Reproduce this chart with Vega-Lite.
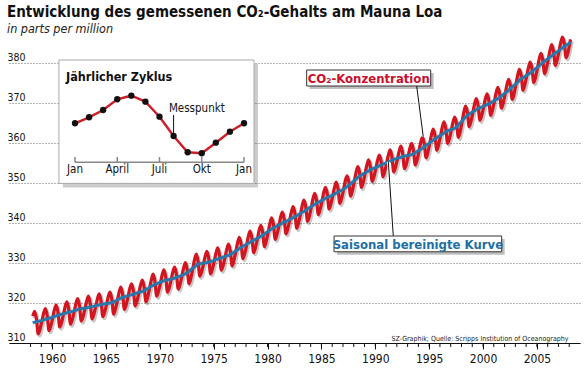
{
  "$schema": "https://vega.github.io/schema/vega-lite/v6.json",
  "width": 571,
  "height": 312,
  "autosize": {"type": "none"},
  "padding": {"left": 9, "top": 31, "right": 6, "bottom": 30},
  "background": "white",
  "config": {
    "view": {"stroke": null},
    "text": {"font": "DejaVu Sans Condensed"},
    "axis": {"labelFont": "DejaVu Sans Condensed", "titleFont": "DejaVu Sans Condensed"}
  },
  "title": {
    "text": "Entwicklung des gemessenen CO₂-Gehalts am Mauna Loa",
    "subtitle": "in parts per million",
    "anchor": "start",
    "frame": "group",
    "dx": -2,
    "offset": -5,
    "font": "DejaVu Sans Condensed",
    "fontSize": 15,
    "fontWeight": "bold",
    "color": "#111",
    "subtitleFont": "DejaVu Sans Condensed",
    "subtitleFontSize": 12.5,
    "subtitleFontStyle": "italic",
    "subtitleColor": "#222",
    "subtitlePadding": 3
  },
  "datasets": {
    "co2": [
      {"t":1958.21,"c":316.7,"d":315.0},{"t":1958.38,"c":317.9,"d":315.2},{"t":1958.54,"c":316.1,"d":315.3},{"t":1958.71,"c":312.3,"d":315.4},{"t":1958.88,"c":313.5,"d":315.5},
      {"t":1959.04,"c":315.3,"d":315.6},{"t":1959.21,"c":317.4,"d":315.8},{"t":1959.38,"c":318.6,"d":315.9},{"t":1959.54,"c":316.9,"d":316.0},{"t":1959.71,"c":313.1,"d":316.2},{"t":1959.88,"c":314.3,"d":316.3},
      {"t":1960.04,"c":316.1,"d":316.5},{"t":1960.21,"c":318.3,"d":316.6},{"t":1960.38,"c":319.5,"d":316.8},{"t":1960.54,"c":317.8,"d":316.9},{"t":1960.71,"c":314.0,"d":317.1},{"t":1960.88,"c":315.1,"d":317.2},
      {"t":1961.04,"c":317.0,"d":317.3},{"t":1961.21,"c":319.1,"d":317.4},{"t":1961.38,"c":320.3,"d":317.6},{"t":1961.54,"c":318.5,"d":317.7},{"t":1961.71,"c":314.7,"d":317.8},{"t":1961.88,"c":315.9,"d":317.9},
      {"t":1962.04,"c":317.7,"d":318.1},{"t":1962.21,"c":319.9,"d":318.2},{"t":1962.38,"c":321.1,"d":318.4},{"t":1962.54,"c":319.3,"d":318.5},{"t":1962.71,"c":315.5,"d":318.6},{"t":1962.88,"c":316.6,"d":318.7},
      {"t":1963.04,"c":318.4,"d":318.7},{"t":1963.21,"c":320.5,"d":318.8},{"t":1963.38,"c":321.7,"d":318.9},{"t":1963.54,"c":319.9,"d":319.0},{"t":1963.71,"c":316.0,"d":319.1},{"t":1963.88,"c":317.2,"d":319.2},
      {"t":1964.04,"c":319.0,"d":319.3},{"t":1964.21,"c":321.1,"d":319.4},{"t":1964.38,"c":322.3,"d":319.5},{"t":1964.54,"c":320.5,"d":319.6},{"t":1964.71,"c":316.6,"d":319.7},{"t":1964.88,"c":317.7,"d":319.8},
      {"t":1965.04,"c":319.5,"d":319.9},{"t":1965.21,"c":321.6,"d":319.9},{"t":1965.38,"c":322.7,"d":320.0},{"t":1965.54,"c":321.0,"d":320.1},{"t":1965.71,"c":317.2,"d":320.3},{"t":1965.88,"c":318.5,"d":320.5},
      {"t":1966.04,"c":320.4,"d":320.8},{"t":1966.21,"c":322.6,"d":321.0},{"t":1966.38,"c":324.0,"d":321.2},{"t":1966.54,"c":322.3,"d":321.4},{"t":1966.71,"c":318.4,"d":321.5},{"t":1966.88,"c":319.6,"d":321.7},
      {"t":1967.04,"c":321.5,"d":321.8},{"t":1967.21,"c":323.6,"d":321.9},{"t":1967.38,"c":324.8,"d":322.1},{"t":1967.54,"c":323.1,"d":322.2},{"t":1967.71,"c":319.3,"d":322.4},{"t":1967.88,"c":320.5,"d":322.5},
      {"t":1968.04,"c":322.3,"d":322.7},{"t":1968.21,"c":324.5,"d":322.8},{"t":1968.38,"c":325.7,"d":322.9},{"t":1968.54,"c":324.0,"d":323.1},{"t":1968.71,"c":320.3,"d":323.4},{"t":1968.88,"c":321.6,"d":323.6},
      {"t":1969.04,"c":323.6,"d":323.9},{"t":1969.21,"c":325.8,"d":324.2},{"t":1969.38,"c":327.2,"d":324.4},{"t":1969.54,"c":325.5,"d":324.7},{"t":1969.71,"c":321.7,"d":324.8},{"t":1969.88,"c":323.0,"d":325.0},
      {"t":1970.04,"c":324.8,"d":325.2},{"t":1970.21,"c":327.0,"d":325.4},{"t":1970.38,"c":328.3,"d":325.6},{"t":1970.54,"c":326.6,"d":325.7},{"t":1970.71,"c":322.7,"d":325.8},{"t":1970.88,"c":323.9,"d":325.9},
      {"t":1971.04,"c":325.7,"d":326.0},{"t":1971.21,"c":327.8,"d":326.1},{"t":1971.38,"c":329.0,"d":326.2},{"t":1971.54,"c":327.2,"d":326.4},{"t":1971.71,"c":323.5,"d":326.6},{"t":1971.88,"c":324.7,"d":326.7},
      {"t":1972.04,"c":326.6,"d":326.9},{"t":1972.21,"c":328.8,"d":327.1},{"t":1972.38,"c":330.1,"d":327.3},{"t":1972.54,"c":328.4,"d":327.6},{"t":1972.71,"c":324.8,"d":327.9},{"t":1972.88,"c":326.2,"d":328.3},
      {"t":1973.04,"c":328.3,"d":328.7},{"t":1973.21,"c":330.7,"d":329.0},{"t":1973.38,"c":332.2,"d":329.4},{"t":1973.54,"c":330.6,"d":329.7},{"t":1973.71,"c":326.7,"d":329.8},{"t":1973.88,"c":327.8,"d":329.9},
      {"t":1974.04,"c":329.6,"d":330.0},{"t":1974.21,"c":331.7,"d":330.0},{"t":1974.38,"c":332.9,"d":330.1},{"t":1974.54,"c":331.1,"d":330.2},{"t":1974.71,"c":327.3,"d":330.4},{"t":1974.88,"c":328.5,"d":330.5},
      {"t":1975.04,"c":330.3,"d":330.7},{"t":1975.21,"c":332.5,"d":330.9},{"t":1975.38,"c":333.8,"d":331.0},{"t":1975.54,"c":332.0,"d":331.2},{"t":1975.71,"c":328.2,"d":331.3},{"t":1975.88,"c":329.4,"d":331.5},
      {"t":1976.04,"c":331.3,"d":331.6},{"t":1976.21,"c":333.4,"d":331.8},{"t":1976.38,"c":334.7,"d":331.9},{"t":1976.54,"c":333.0,"d":332.1},{"t":1976.71,"c":329.3,"d":332.4},{"t":1976.88,"c":330.7,"d":332.7},
      {"t":1977.04,"c":332.7,"d":333.0},{"t":1977.21,"c":335.0,"d":333.3},{"t":1977.38,"c":336.4,"d":333.6},{"t":1977.54,"c":334.8,"d":333.9},{"t":1977.71,"c":331.1,"d":334.2},{"t":1977.88,"c":332.4,"d":334.4},
      {"t":1978.04,"c":334.3,"d":334.7},{"t":1978.21,"c":336.6,"d":335.0},{"t":1978.38,"c":338.0,"d":335.2},{"t":1978.54,"c":336.3,"d":335.5},{"t":1978.71,"c":332.6,"d":335.7},{"t":1978.88,"c":333.9,"d":335.9},
      {"t":1979.04,"c":335.8,"d":336.2},{"t":1979.21,"c":338.1,"d":336.4},{"t":1979.38,"c":339.4,"d":336.7},{"t":1979.54,"c":337.8,"d":336.9},{"t":1979.71,"c":334.1,"d":337.2},{"t":1979.88,"c":335.5,"d":337.6},
      {"t":1980.04,"c":337.5,"d":337.9},{"t":1980.21,"c":339.8,"d":338.2},{"t":1980.38,"c":341.3,"d":338.5},{"t":1980.54,"c":339.7,"d":338.8},{"t":1980.71,"c":335.9,"d":339.0},{"t":1980.88,"c":337.2,"d":339.3},
      {"t":1981.04,"c":339.1,"d":339.5},{"t":1981.21,"c":341.4,"d":339.7},{"t":1981.38,"c":342.7,"d":340.0},{"t":1981.54,"c":341.0,"d":340.2},{"t":1981.71,"c":337.3,"d":340.4},{"t":1981.88,"c":338.6,"d":340.6},
      {"t":1982.04,"c":340.5,"d":340.9},{"t":1982.21,"c":342.7,"d":341.1},{"t":1982.38,"c":344.1,"d":341.3},{"t":1982.54,"c":342.4,"d":341.6},{"t":1982.71,"c":338.7,"d":341.8},{"t":1982.88,"c":340.1,"d":342.1},
      {"t":1983.04,"c":342.0,"d":342.4},{"t":1983.21,"c":344.3,"d":342.7},{"t":1983.38,"c":345.7,"d":342.9},{"t":1983.54,"c":344.1,"d":343.2},{"t":1983.71,"c":340.4,"d":343.5},{"t":1983.88,"c":341.7,"d":343.8},
      {"t":1984.04,"c":343.7,"d":344.1},{"t":1984.21,"c":346.0,"d":344.4},{"t":1984.38,"c":347.4,"d":344.7},{"t":1984.54,"c":345.8,"d":344.9},{"t":1984.71,"c":342.1,"d":345.2},{"t":1984.88,"c":343.4,"d":345.4},
      {"t":1985.04,"c":345.3,"d":345.7},{"t":1985.21,"c":347.6,"d":345.9},{"t":1985.38,"c":348.9,"d":346.2},{"t":1985.54,"c":347.3,"d":346.4},{"t":1985.71,"c":343.5,"d":346.6},{"t":1985.88,"c":344.8,"d":346.8},
      {"t":1986.04,"c":346.7,"d":347.0},{"t":1986.21,"c":348.9,"d":347.2},{"t":1986.38,"c":350.2,"d":347.5},{"t":1986.54,"c":348.5,"d":347.7},{"t":1986.71,"c":344.9,"d":348.0},{"t":1986.88,"c":346.2,"d":348.2},
      {"t":1987.04,"c":348.2,"d":348.5},{"t":1987.21,"c":350.5,"d":348.8},{"t":1987.38,"c":351.8,"d":349.1},{"t":1987.54,"c":350.3,"d":349.4},{"t":1987.71,"c":346.7,"d":349.8},{"t":1987.88,"c":348.2,"d":350.2},
      {"t":1988.04,"c":350.3,"d":350.6},{"t":1988.21,"c":352.6,"d":351.0},{"t":1988.38,"c":354.1,"d":351.4},{"t":1988.54,"c":352.6,"d":351.8},{"t":1988.71,"c":348.9,"d":352.0},{"t":1988.88,"c":350.2,"d":352.3},
      {"t":1989.04,"c":352.2,"d":352.5},{"t":1989.21,"c":354.4,"d":352.8},{"t":1989.38,"c":355.8,"d":353.0},{"t":1989.54,"c":354.1,"d":353.3},{"t":1989.71,"c":350.4,"d":353.5},{"t":1989.88,"c":351.6,"d":353.7},
      {"t":1990.04,"c":353.5,"d":353.9},{"t":1990.21,"c":355.7,"d":354.1},{"t":1990.38,"c":357.0,"d":354.3},{"t":1990.54,"c":355.4,"d":354.5},{"t":1990.71,"c":351.6,"d":354.7},{"t":1990.88,"c":352.9,"d":354.9},
      {"t":1991.04,"c":354.8,"d":355.1},{"t":1991.21,"c":357.0,"d":355.3},{"t":1991.38,"c":358.3,"d":355.5},{"t":1991.54,"c":356.6,"d":355.7},{"t":1991.71,"c":352.8,"d":355.9},{"t":1991.88,"c":354.0,"d":356.0},
      {"t":1992.04,"c":355.8,"d":356.2},{"t":1992.21,"c":357.9,"d":356.3},{"t":1992.38,"c":359.2,"d":356.4},{"t":1992.54,"c":357.4,"d":356.6},{"t":1992.71,"c":353.6,"d":356.7},{"t":1992.88,"c":354.7,"d":356.8},
      {"t":1993.04,"c":356.6,"d":356.9},{"t":1993.21,"c":358.7,"d":357.0},{"t":1993.38,"c":359.9,"d":357.1},{"t":1993.54,"c":358.1,"d":357.3},{"t":1993.71,"c":354.5,"d":357.6},{"t":1993.88,"c":355.8,"d":357.9},
      {"t":1994.04,"c":357.8,"d":358.2},{"t":1994.21,"c":360.1,"d":358.4},{"t":1994.38,"c":361.5,"d":358.7},{"t":1994.54,"c":359.9,"d":359.0},{"t":1994.71,"c":356.3,"d":359.4},{"t":1994.88,"c":357.7,"d":359.7},
      {"t":1995.04,"c":359.7,"d":360.0},{"t":1995.21,"c":362.0,"d":360.4},{"t":1995.38,"c":363.5,"d":360.7},{"t":1995.54,"c":361.9,"d":361.0},{"t":1995.71,"c":358.2,"d":361.3},{"t":1995.88,"c":359.6,"d":361.6},
      {"t":1996.04,"c":361.6,"d":361.9},{"t":1996.21,"c":363.9,"d":362.2},{"t":1996.38,"c":365.3,"d":362.5},{"t":1996.54,"c":363.6,"d":362.8},{"t":1996.71,"c":359.9,"d":363.0},{"t":1996.88,"c":361.1,"d":363.2},
      {"t":1997.04,"c":363.0,"d":363.4},{"t":1997.21,"c":365.2,"d":363.5},{"t":1997.38,"c":366.5,"d":363.7},{"t":1997.54,"c":364.9,"d":364.0},{"t":1997.71,"c":361.4,"d":364.5},{"t":1997.88,"c":362.9,"d":365.0},
      {"t":1998.04,"c":365.1,"d":365.5},{"t":1998.21,"c":367.6,"d":366.0},{"t":1998.38,"c":369.2,"d":366.5},{"t":1998.54,"c":367.8,"d":366.9},{"t":1998.71,"c":364.1,"d":367.2},{"t":1998.88,"c":365.4,"d":367.5},
      {"t":1999.04,"c":367.4,"d":367.8},{"t":1999.21,"c":369.7,"d":368.0},{"t":1999.38,"c":371.1,"d":368.3},{"t":1999.54,"c":369.4,"d":368.6},{"t":1999.71,"c":365.7,"d":368.8},{"t":1999.88,"c":366.9,"d":369.0},
      {"t":2000.04,"c":368.8,"d":369.2},{"t":2000.21,"c":371.0,"d":369.4},{"t":2000.38,"c":372.3,"d":369.6},{"t":2000.54,"c":370.6,"d":369.8},{"t":2000.71,"c":366.9,"d":370.0},{"t":2000.88,"c":368.3,"d":370.3},
      {"t":2001.04,"c":370.2,"d":370.6},{"t":2001.21,"c":372.5,"d":370.9},{"t":2001.38,"c":373.9,"d":371.1},{"t":2001.54,"c":372.3,"d":371.4},{"t":2001.71,"c":368.7,"d":371.8},{"t":2001.88,"c":370.1,"d":372.1},
      {"t":2002.04,"c":372.1,"d":372.5},{"t":2002.21,"c":374.5,"d":372.8},{"t":2002.38,"c":375.9,"d":373.2},{"t":2002.54,"c":374.4,"d":373.6},{"t":2002.71,"c":370.9,"d":374.0},{"t":2002.88,"c":372.3,"d":374.4},
      {"t":2003.04,"c":374.5,"d":374.8},{"t":2003.21,"c":376.9,"d":375.2},{"t":2003.38,"c":378.4,"d":375.7},{"t":2003.54,"c":376.9,"d":376.1},{"t":2003.71,"c":373.2,"d":376.3},{"t":2003.88,"c":374.6,"d":376.6},
      {"t":2004.04,"c":376.6,"d":376.9},{"t":2004.21,"c":378.8,"d":377.2},{"t":2004.38,"c":380.2,"d":377.5},{"t":2004.54,"c":378.6,"d":377.8},{"t":2004.71,"c":375.1,"d":378.2},{"t":2004.88,"c":376.5,"d":378.6},
      {"t":2005.04,"c":378.6,"d":378.9},{"t":2005.21,"c":381.0,"d":379.3},{"t":2005.38,"c":382.4,"d":379.7},{"t":2005.54,"c":380.9,"d":380.1},{"t":2005.71,"c":377.3,"d":380.4},{"t":2005.88,"c":378.7,"d":380.8},
      {"t":2006.04,"c":380.8,"d":381.1},{"t":2006.21,"c":383.1,"d":381.5},{"t":2006.38,"c":384.6,"d":381.8},{"t":2006.54,"c":383.0,"d":382.2},{"t":2006.71,"c":379.4,"d":382.5},{"t":2006.88,"c":380.8,"d":382.8},
      {"t":2007.04,"c":382.8,"d":383.1},{"t":2007.21,"c":385.1,"d":383.5},{"t":2007.38,"c":386.5,"d":383.8},{"t":2007.54,"c":384.9,"d":384.1},{"t":2007.71,"c":381.3,"d":384.4},{"t":2007.88,"c":382.6,"d":384.7},
      {"t":2008.04,"c":384.7,"d":385.0},{"t":2008.12,"c":385.9,"d":385.2}
    ],
    "years": [
      {"yr":1958},{"yr":1959},{"yr":1960},{"yr":1961},{"yr":1962},{"yr":1963},{"yr":1964},{"yr":1965},{"yr":1966},{"yr":1967},
      {"yr":1968},{"yr":1969},{"yr":1970},{"yr":1971},{"yr":1972},{"yr":1973},{"yr":1974},{"yr":1975},{"yr":1976},{"yr":1977},
      {"yr":1978},{"yr":1979},{"yr":1980},{"yr":1981},{"yr":1982},{"yr":1983},{"yr":1984},{"yr":1985},{"yr":1986},{"yr":1987},
      {"yr":1988},{"yr":1989},{"yr":1990},{"yr":1991},{"yr":1992},{"yr":1993},{"yr":1994},{"yr":1995},{"yr":1996},{"yr":1997},
      {"yr":1998},{"yr":1999},{"yr":2000},{"yr":2001},{"yr":2002},{"yr":2003},{"yr":2004},{"yr":2005},{"yr":2006},{"yr":2007},{"yr":2008}
    ],
    "notes": [
      {"k":"co2","text":"CO₂-Konzentration","x1":1983.63,"x2":1995.14,"y1":378.25,"y2":374.25,"tx":1989.39,"ty":375.1,"lx1":1993.84,"ly1":374.25,"lx2":1994.45,"ly2":361.6},
      {"k":"sa","text":"Saisonal bereinigte Kurve","x1":1986.17,"x2":2001.73,"y1":336.75,"y2":332.8,"tx":1993.95,"ty":333.5,"lx1":1991.67,"ly1":336.75,"lx2":1991.21,"ly2":355.3}
    ],
    "cycle": [
      {"m":0,"y":364.93},{"m":1,"y":366.43},{"m":2,"y":368.25},{"m":3,"y":370.93},{"m":4,"y":371.83},{"m":5,"y":370.33},
      {"m":6,"y":366.58},{"m":7,"y":361.75},{"m":8,"y":357.68},{"m":9,"y":357.43},{"m":10,"y":360.08},{"m":11,"y":362.83},{"m":12,"y":364.93}
    ],
    "ibox": [{"m1":-1.14,"m2":12.71,"y1":380.75,"y2":349.9}],
    "iticks": [{"m":0,"lab":"Jan"},{"m":3,"lab":"April"},{"m":6,"lab":"Juli"},{"m":9,"lab":"Okt"},{"m":12,"lab":"Jan"}],
    "ititle": [{"m":-0.64,"y":375.5,"text":"Jährlicher Zyklus"}],
    "ipoint": [{"m":6.67,"y":367.7,"text":"Messpunkt","m0":7,"ya":367.0,"yb":361.75}]
  },
  "layer": [
    {
      "layer": [
        {
          "data": {"name": "co2"},
          "mark": {"type": "line", "interpolate": "monotone", "color": "#000", "opacity": 0.22, "strokeWidth": 3.5, "xOffset": 1.5, "yOffset": 2},
          "encoding": {
            "x": {"field": "t", "type": "quantitative", "scale": {"domain": [1956, 2009], "nice": false, "zero": false},
              "axis": {
                "values": [1960,1965,1970,1975,1980,1985,1990,1995,2000,2005],
                "format": "d",
                "title": "SZ-Graphik; Quelle: Scripps Institution of Oceanography",
                "titleFont": "DejaVu Sans Condensed",
                "titleFontSize": 7,
                "titleFontWeight": "normal",
                "titleColor": "#222",
                "titleAnchor": "end",
                "titleAlign": "right",
                "titleX": 559,
                "titleY": -3,
                "titleBaseline": "alphabetic",
                "domainColor": "#111",
                "domainWidth": 1.2,
                "tickColor": "#111",
                "tickWidth": 1,
                "tickSize": 6,
                "labelPadding": 4,
                "labelFont": "DejaVu Sans Condensed",
                "labelFontSize": 12,
                "labelColor": "#111",
                "labelOverlap": false,
                "labelFlush": false,
                "grid": false
              }
            },
            "y": {"field": "c", "type": "quantitative", "scale": {"domain": [310, 388], "nice": false, "zero": false},
              "axis": {
                "values": [310,320,330,340,350,360,370,380],
                "title": null,
                "domain": false,
                "ticks": false,
                "tickSize": 0,
                "grid": true,
                "gridColor": "#666",
                "gridDash": [1, 2],
                "gridWidth": 1,
                "labelAlign": "left",
                "labelBaseline": "alphabetic",
                "labelPadding": 2,
                "labelOffset": -3,
                "labelFont": "DejaVu Sans Condensed",
                "labelFontSize": 10.5,
                "labelColor": "#111"
              }
            }
          }
        },
        {
          "data": {"name": "co2"},
          "mark": {"type": "line", "interpolate": "monotone", "color": "#d3151f", "strokeWidth": 3.2},
          "encoding": {
            "x": {"field": "t", "type": "quantitative", "scale": {"domain": [1956, 2009], "nice": false, "zero": false}},
            "y": {"field": "c", "type": "quantitative", "scale": {"domain": [310, 388], "nice": false, "zero": false}}
          }
        },
        {
          "data": {"name": "co2"},
          "mark": {"type": "line", "interpolate": "monotone", "color": "#2877ad", "strokeWidth": 3},
          "encoding": {
            "x": {"field": "t", "type": "quantitative", "scale": {"domain": [1956, 2009], "nice": false, "zero": false}},
            "y": {"field": "d", "type": "quantitative", "scale": {"domain": [310, 388], "nice": false, "zero": false}}
          }
        },
        {
          "data": {"name": "years"},
          "mark": {"type": "rule", "color": "#111", "strokeWidth": 1},
          "encoding": {
            "x": {"field": "yr", "type": "quantitative", "scale": {"domain": [1956, 2009], "nice": false, "zero": false}},
            "y": {"datum": 310, "type": "quantitative", "scale": {"domain": [310, 388], "nice": false, "zero": false}},
            "y2": {"datum": 309}
          }
        },
        {
          "data": {"name": "notes"},
          "mark": {"type": "rule", "color": "white", "strokeWidth": 3},
          "encoding": {
            "x": {"field": "lx1", "type": "quantitative", "scale": {"domain": [1956, 2009], "nice": false, "zero": false}},
            "x2": {"field": "lx2"},
            "y": {"field": "ly1", "type": "quantitative", "scale": {"domain": [310, 388], "nice": false, "zero": false}},
            "y2": {"field": "ly2"}
          }
        },
        {
          "data": {"name": "notes"},
          "mark": {"type": "rule", "color": "#111", "strokeWidth": 1},
          "encoding": {
            "x": {"field": "lx1", "type": "quantitative", "scale": {"domain": [1956, 2009], "nice": false, "zero": false}},
            "x2": {"field": "lx2"},
            "y": {"field": "ly1", "type": "quantitative", "scale": {"domain": [310, 388], "nice": false, "zero": false}},
            "y2": {"field": "ly2"}
          }
        },
        {
          "data": {"name": "notes"},
          "mark": {"type": "rect", "color": "#000", "opacity": 0.25, "xOffset": 3, "x2Offset": 3, "yOffset": 3, "y2Offset": 3},
          "encoding": {
            "x": {"field": "x1", "type": "quantitative", "scale": {"domain": [1956, 2009], "nice": false, "zero": false}},
            "x2": {"field": "x2"},
            "y": {"field": "y1", "type": "quantitative", "scale": {"domain": [310, 388], "nice": false, "zero": false}},
            "y2": {"field": "y2"}
          }
        },
        {
          "data": {"name": "notes"},
          "mark": {"type": "rect", "fill": "white", "stroke": "#333", "strokeWidth": 1},
          "encoding": {
            "x": {"field": "x1", "type": "quantitative", "scale": {"domain": [1956, 2009], "nice": false, "zero": false}},
            "x2": {"field": "x2"},
            "y": {"field": "y1", "type": "quantitative", "scale": {"domain": [310, 388], "nice": false, "zero": false}},
            "y2": {"field": "y2"}
          }
        },
        {
          "data": {"name": "notes"},
          "mark": {"type": "text", "font": "DejaVu Sans Condensed", "fontSize": 13, "fontWeight": "bold", "align": "center", "baseline": "alphabetic"},
          "encoding": {
            "x": {"field": "tx", "type": "quantitative", "scale": {"domain": [1956, 2009], "nice": false, "zero": false}},
            "y": {"field": "ty", "type": "quantitative", "scale": {"domain": [310, 388], "nice": false, "zero": false}},
            "text": {"field": "text"},
            "color": {"field": "k", "type": "nominal", "scale": {"domain": ["co2", "sa"], "range": ["#c8102e", "#1d6fa5"]}, "legend": null}
          }
        }
      ]
    },
    {
      "layer": [
        {
          "data": {"name": "ibox"},
          "mark": {"type": "rect", "color": "#000", "opacity": 0.2, "xOffset": 4, "x2Offset": 4, "yOffset": 4, "y2Offset": 4},
          "encoding": {
            "x": {"field": "m1", "type": "quantitative", "scale": {"domain": [-4.686, 35.858], "nice": false, "zero": false}, "axis": null},
            "x2": {"field": "m2"},
            "y": {"field": "y1", "type": "quantitative", "scale": {"domain": [310, 388], "nice": false, "zero": false}},
            "y2": {"field": "y2"}
          }
        },
        {
          "data": {"name": "ibox"},
          "mark": {"type": "rect", "fill": "white", "stroke": "#aaa", "strokeWidth": 1},
          "encoding": {
            "x": {"field": "m1", "type": "quantitative", "scale": {"domain": [-4.686, 35.858], "nice": false, "zero": false}, "axis": null},
            "x2": {"field": "m2"},
            "y": {"field": "y1", "type": "quantitative", "scale": {"domain": [310, 388], "nice": false, "zero": false}},
            "y2": {"field": "y2"}
          }
        },
        {
          "data": {"name": "ibox"},
          "mark": {"type": "rule", "color": "#888", "strokeWidth": 1.5},
          "encoding": {
            "x": {"datum": 0, "type": "quantitative", "scale": {"domain": [-4.686, 35.858], "nice": false, "zero": false}, "axis": null},
            "x2": {"datum": 12},
            "y": {"datum": 355.18, "type": "quantitative", "scale": {"domain": [310, 388], "nice": false, "zero": false}}
          }
        },
        {
          "data": {"name": "iticks"},
          "mark": {"type": "rule", "color": "#888", "strokeWidth": 1.5},
          "encoding": {
            "x": {"field": "m", "type": "quantitative", "scale": {"domain": [-4.686, 35.858], "nice": false, "zero": false}, "axis": null},
            "y": {"datum": 355.18, "type": "quantitative", "scale": {"domain": [310, 388], "nice": false, "zero": false}},
            "y2": {"datum": 356.5}
          }
        },
        {
          "data": {"name": "iticks"},
          "mark": {"type": "text", "font": "DejaVu Sans Condensed", "fontSize": 11.5, "align": "center", "baseline": "alphabetic", "color": "#111"},
          "encoding": {
            "x": {"field": "m", "type": "quantitative", "scale": {"domain": [-4.686, 35.858], "nice": false, "zero": false}, "axis": null},
            "y": {"datum": 352.43, "type": "quantitative", "scale": {"domain": [310, 388], "nice": false, "zero": false}},
            "text": {"field": "lab"}
          }
        },
        {
          "data": {"name": "ipoint"},
          "mark": {"type": "rule", "color": "#111", "strokeWidth": 1},
          "encoding": {
            "x": {"field": "m0", "type": "quantitative", "scale": {"domain": [-4.686, 35.858], "nice": false, "zero": false}, "axis": null},
            "y": {"field": "ya", "type": "quantitative", "scale": {"domain": [310, 388], "nice": false, "zero": false}},
            "y2": {"field": "yb"}
          }
        },
        {
          "data": {"name": "cycle"},
          "mark": {"type": "line", "color": "#cc1f2a", "strokeWidth": 2.5},
          "encoding": {
            "x": {"field": "m", "type": "quantitative", "scale": {"domain": [-4.686, 35.858], "nice": false, "zero": false}, "axis": null},
            "y": {"field": "y", "type": "quantitative", "scale": {"domain": [310, 388], "nice": false, "zero": false}}
          }
        },
        {
          "data": {"name": "cycle"},
          "mark": {"type": "circle", "color": "#111", "opacity": 1, "size": 40},
          "encoding": {
            "x": {"field": "m", "type": "quantitative", "scale": {"domain": [-4.686, 35.858], "nice": false, "zero": false}, "axis": null},
            "y": {"field": "y", "type": "quantitative", "scale": {"domain": [310, 388], "nice": false, "zero": false}}
          }
        },
        {
          "data": {"name": "ipoint"},
          "mark": {"type": "text", "font": "DejaVu Sans Condensed", "fontSize": 11.5, "align": "left", "baseline": "alphabetic", "color": "#111"},
          "encoding": {
            "x": {"field": "m", "type": "quantitative", "scale": {"domain": [-4.686, 35.858], "nice": false, "zero": false}, "axis": null},
            "y": {"field": "y", "type": "quantitative", "scale": {"domain": [310, 388], "nice": false, "zero": false}},
            "text": {"field": "text"}
          }
        },
        {
          "data": {"name": "ititle"},
          "mark": {"type": "text", "font": "DejaVu Sans Condensed", "fontSize": 12.5, "fontWeight": "bold", "align": "left", "baseline": "alphabetic", "color": "#111"},
          "encoding": {
            "x": {"field": "m", "type": "quantitative", "scale": {"domain": [-4.686, 35.858], "nice": false, "zero": false}, "axis": null},
            "y": {"field": "y", "type": "quantitative", "scale": {"domain": [310, 388], "nice": false, "zero": false}},
            "text": {"field": "text"}
          }
        }
      ]
    }
  ],
  "resolve": {"scale": {"x": "independent"}}
}
